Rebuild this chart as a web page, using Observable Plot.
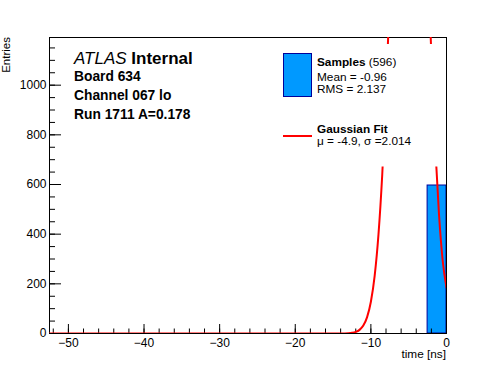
<!DOCTYPE html>
<html><head><meta charset="utf-8">
<script src="https://cdn.jsdelivr.net/npm/d3@7"></script>
<script src="https://cdn.jsdelivr.net/npm/@observablehq/plot@0.6"></script>
<style>
html,body{margin:0;padding:0;background:#fff;}
#chart{position:relative;width:496px;height:372px;}
</style></head><body><div id="chart"></div>
<script>
// Histogram (one filled bin) and fitted Gaussian curve
const binLo = [-2.5];
const binHi = [0];
const binCount = [596];
const fitX = [-52.5, -16, -15, -14, -13.5, -13, -12.5, -12, -11.5, -11, -10.5, -10, -9.5, -9, -8.5, -8, -7.5, -7, -6.5, -6, -5.5, -4.9, -4.5, -4, -3.5, -3, -2.5, -2, -1.5, -1, -0.5, 0];
const fitY = [0, 0, 0.02, 0.1, 0.35, 1, 2.6, 6.3, 14.6, 32, 66, 128, 232, 397, 638, 963, 1369, 1829, 2297, 2713, 3013, 3150, 3089, 2851, 2474, 2019, 1549, 1117, 758, 483, 292, 185];
const xMajorTicks = [-50, -40, -30, -20, -10, 0];
const yMajorTicks = [0, 200, 400, 600, 800, 1000];
const xMinorTicks = d3.range(-52, 0.1, 2);
const yMinorTicks = d3.range(0, 1190, 50);

const FONT = '"Liberation Sans", Arial, Helvetica, sans-serif';
const W = 496, H = 372, mL = 49, mR = 50, mT = 37, mB = 39;
const fw = W - mL - mR, fh = H - mT - mB;

const bins = binLo.map((d, i) => ({x1: d, x2: binHi[i], y: binCount[i]}));
const fit = fitX.map((x, i) => ({x, y: fitY[i]}));

const plot = Plot.plot({
  width: W, height: H,
  marginLeft: mL, marginRight: mR, marginTop: mT, marginBottom: mB,
  style: {fontFamily: FONT, fontSize: "12px", background: "white", color: "black"},
  x: {domain: [-52.5, 0]},
  y: {domain: [0, 1192]},
  marks: [
    Plot.rectY(bins, {x1: "x1", x2: "x2", y: "y", fill: "#0099ff", stroke: "#000099", strokeWidth: 1}),
    Plot.tickX(xMajorTicks, {x: d => d, insetTop: fh - 9, stroke: "black"}),
    Plot.tickX(xMinorTicks, {x: d => d, insetTop: fh - 4.5, stroke: "black"}),
    Plot.tickY(yMajorTicks, {y: d => d, insetRight: fw - 12, stroke: "black"}),
    Plot.tickY(yMinorTicks, {y: d => d, insetRight: fw - 6, stroke: "black"}),
    Plot.frame({stroke: "black"}),
    Plot.line(fit, {x: "x", y: "y", stroke: "#ff0000", strokeWidth: 2, curve: "monotone-x", clip: true}),
    Plot.axisX({ticks: xMajorTicks, tickSize: 0, tickPadding: 4.5, label: null, fontSize: 12}),
    Plot.axisY({ticks: yMajorTicks, tickSize: 0, tickPadding: 3, label: null, fontSize: 12, tickFormat: d => String(d)})
  ]
});
document.getElementById("chart").appendChild(plot);

const svg = d3.select(plot);
const g = svg.append("g").attr("font-family", FONT).attr("fill", "black")
  .attr("text-anchor", "start").style("white-space", "pre");

// Axis titles
g.append("text").attr("transform", "translate(9.5,37) rotate(-90)").attr("text-anchor", "end")
  .attr("font-size", 11.5).text("Entries");
g.append("text").attr("x", 446).attr("y", 358).attr("text-anchor", "end")
  .attr("font-size", 11.8).text("time [ns]");

// ATLAS label block
const t1 = g.append("text").attr("x", 74).attr("y", 64).attr("font-size", 17);
t1.append("tspan").attr("font-style", "italic").text("ATLAS");
t1.append("tspan").attr("font-weight", "bold").text(" Internal");
const info = ["Board 634", "Channel 067 lo", "Run 1711 A=0.178"];
const infoY = [81, 100, 119];
info.forEach((s, i) => g.append("text").attr("x", 74).attr("y", infoY[i])
  .attr("font-size", 13.8).attr("font-weight", "bold").text(s));

// Legend (white box, drawn over the curve)
const lg = g.append("g");
lg.append("rect").attr("x", 270).attr("y", 44).attr("width", 175).attr("height", 122.5).attr("fill", "white");
lg.append("rect").attr("x", 283.5).attr("y", 53.5).attr("width", 28).attr("height", 43)
  .attr("fill", "#0099ff").attr("stroke", "#000099").attr("stroke-width", 1);
const s1 = lg.append("text").attr("x", 317).attr("y", 65.7).attr("font-size", 11.8);
s1.append("tspan").attr("font-weight", "bold").text("Samples");
s1.append("tspan").text(" (596)");
lg.append("text").attr("x", 317).attr("y", 80.7).attr("font-size", 11.8).text("Mean = -0.96");
lg.append("text").attr("x", 317).attr("y", 93.3).attr("font-size", 11.8).text("RMS = 2.137");
lg.append("line").attr("x1", 283).attr("x2", 312).attr("y1", 136).attr("y2", 136)
  .attr("stroke", "#ff0000").attr("stroke-width", 2);
lg.append("text").attr("x", 317).attr("y", 132.7).attr("font-size", 11.8).attr("font-weight", "bold").text("Gaussian Fit");
lg.append("text").attr("x", 317).attr("y", 145).attr("font-size", 11.8).text("μ = -4.9, σ =2.014");
</script></body></html>
